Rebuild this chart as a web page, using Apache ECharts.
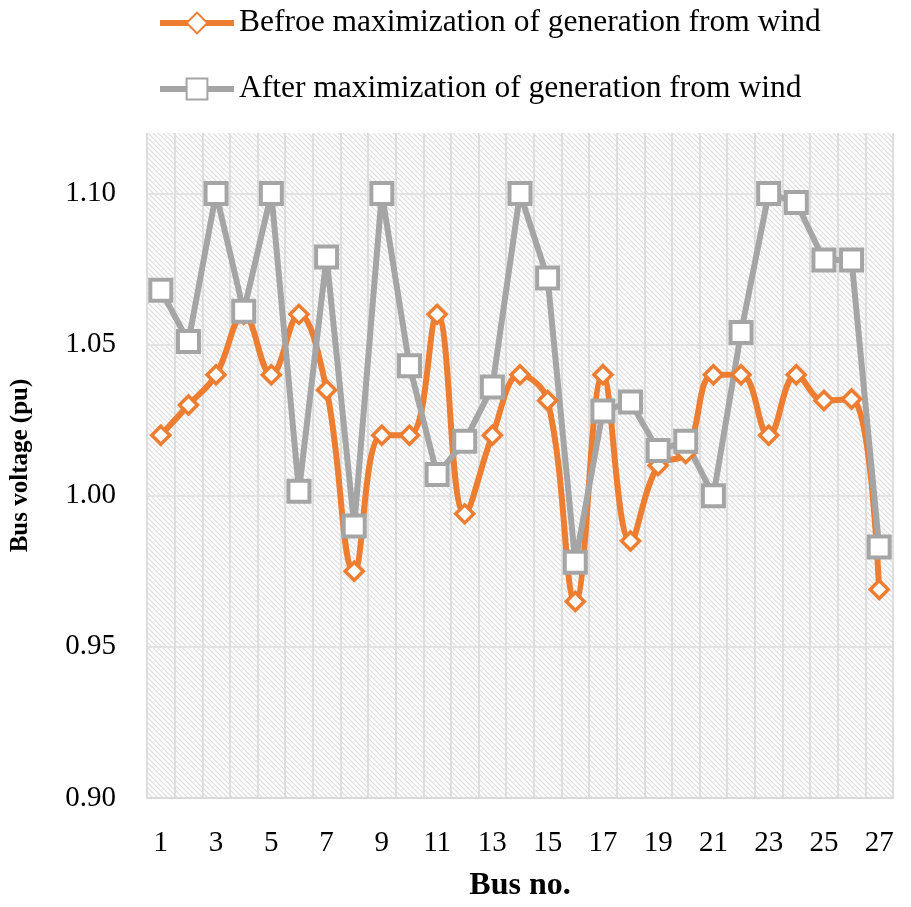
<!DOCTYPE html>
<html>
<head>
<meta charset="utf-8">
<script src="https://cdn.jsdelivr.net/npm/echarts@6/dist/echarts.min.js"></script>
<style>html,body{margin:0;padding:0;background:#fff}#c{width:911px;height:907px}</style>
</head>
<body>
<div id="c"></div>
<script>
const buses = ['1','2','3','4','5','6','7','8','9','10','11','12','13','14','15','16','17','18','19','20','21','22','23','24','25','26','27'];
const before = [1.020,1.030,1.040,1.060,1.040,1.060,1.035,0.975,1.020,1.020,1.060,0.994,1.020,1.040,1.0315,0.965,1.040,0.985,1.010,1.014,1.040,1.040,1.020,1.040,1.0315,1.032,0.969];
const after = [1.068,1.051,1.100,1.061,1.100,1.0015,1.079,0.990,1.100,1.043,1.007,1.018,1.036,1.100,1.072,0.978,1.028,1.031,1.015,1.018,1.000,1.054,1.100,1.097,1.078,1.078,0.983];
const yTicks = {min: 0.90, max: 1.12, interval: 0.05};
const names = ['Befroe maximization of generation from wind','After maximization of generation from wind'];

// hatch pattern
const P = 5;
const pc = document.createElement('canvas');
pc.width = P; pc.height = P;
const g = pc.getContext('2d');
g.fillStyle = '#ffffff'; g.fillRect(0,0,P,P);
g.strokeStyle = '#dcdcdc'; g.lineWidth = 1.2;
g.beginPath();
g.moveTo(-1,-1); g.lineTo(P+1,P+1);
g.moveTo(-1,P-1); g.lineTo(1,P+1);
g.moveTo(P-1,-1); g.lineTo(P+1,1);
g.stroke();

const font = '"Liberation Serif", "Times New Roman", serif';
const chart = echarts.init(document.getElementById('c'));
chart.setOption({
  animation: false,
  textStyle: {fontFamily: font},
  legend: {
    orient: 'vertical', left: 152, top: 2, itemGap: 34,
    itemWidth: 74, itemHeight: 26,
    lineStyle: {width: 6},
    textStyle: {fontFamily: font, fontSize: 31.5, color: '#000'},
    data: names
  },
  grid: {left: 143, right: 18, top: 133, bottom: 107, show: true,
    backgroundColor: {image: pc, repeat: 'repeat'}, borderWidth: 0},
  xAxis: {
    type: 'category', data: buses, boundaryGap: true,
    name: 'Bus no.', nameLocation: 'middle', nameGap: 72,
    nameTextStyle: {fontFamily: font, fontSize: 32, fontWeight: 'bold', color: '#000'},
    axisLine: {lineStyle: {color: '#d9d9d9', width: 2}},
    axisTick: {show: false},
    axisLabel: {interval: 1, fontFamily: font, fontSize: 29, color: '#000', margin: 31},
    splitLine: {show: true, interval: 0, lineStyle: {color: '#dedede', width: 2}}
  },
  yAxis: {
    type: 'value', min: yTicks.min, max: yTicks.max, interval: yTicks.interval,
    name: 'Bus voltage (pu)', nameLocation: 'middle', nameGap: 114,
    nameTextStyle: {fontFamily: font, fontSize: 25, fontWeight: 'bold', color: '#000'},
    axisLine: {show: false}, axisTick: {show: false},
    axisLabel: {fontFamily: font, fontSize: 29, color: '#000', margin: 31, showMaxLabel: false,
      formatter: v => v.toFixed(2)},
    splitLine: {show: true, showMaxLine: false, lineStyle: {color: '#e3e3e3', width: 2}}
  },
  series: [
    {name: names[0], type: 'line', data: before, smooth: 0.4,
      symbol: 'diamond', symbolSize: 18, showAllSymbol: true,
      lineStyle: {color: '#ED7D31', width: 6},
      itemStyle: {color: '#fff', borderColor: '#ED7D31', borderWidth: 3.5}},
    {name: names[1], type: 'line', data: after, smooth: false,
      symbol: 'rect', symbolSize: 21, showAllSymbol: true,
      lineStyle: {color: '#A5A5A5', width: 6},
      itemStyle: {color: '#fff', borderColor: '#A5A5A5', borderWidth: 4}}
  ]
});
</script>
</body>
</html>
